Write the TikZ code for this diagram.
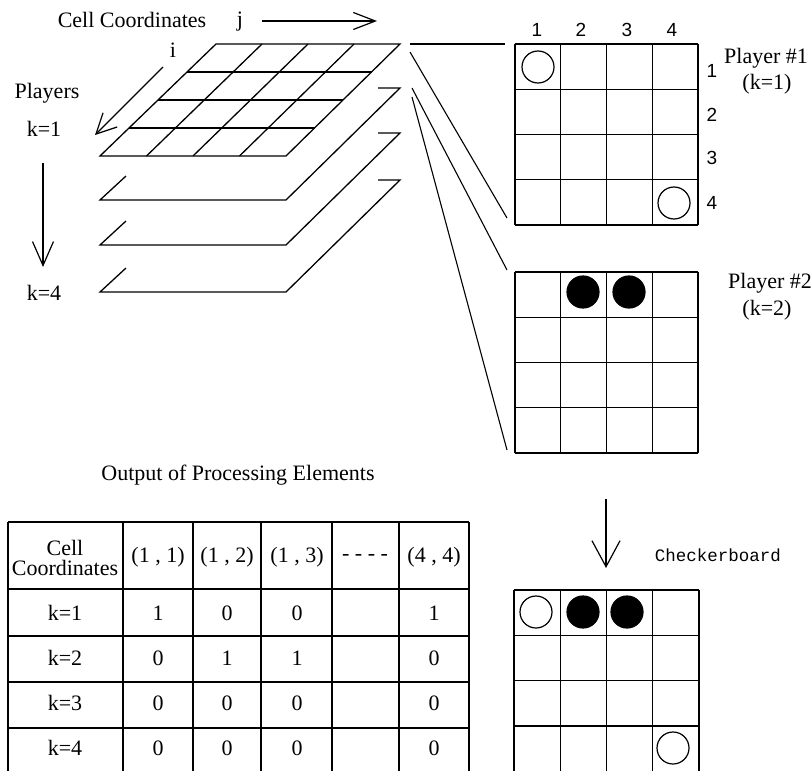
\documentclass[tikz,border=0pt]{standalone}
\usepackage{fontspec}
\setmainfont{Liberation Serif}
\newfontfamily\sansf{Liberation Sans}
\newfontfamily\monof{Liberation Mono}
\usetikzlibrary{arrows.meta}
\begin{document}
\begin{tikzpicture}[x=1pt,y=-1pt,line width=1.3pt,
  lbl/.style={font=\fontsize{22}{20}\selectfont, inner sep=0pt},
  num/.style={font=\sansf\fontsize{19}{20}\selectfont, inner sep=0pt},
  mono/.style={font=\monof\fontsize{17.5}{18}\selectfont, inner sep=0pt},
  piece/.style={circle, draw, line width=1.2pt, minimum size=32pt, inner sep=0pt},
  black piece/.style={piece, fill=black},
  conn/.style={line width=1.1pt},
  vee/.style={-{Straight Barb[length=#1pt,width=#1pt,line width=1.2pt]}}
]
\fill[white] (0,0) rectangle (812,771);
\useasboundingbox (0,0) rectangle (812,771);

% ---------- labels top left ----------
\node[lbl] (cc) at (132,20) {Cell Coordinates};
\node[lbl] (jl) at (240,22) {j};
\coordinate (ja) at (262,21);
\coordinate (jb) at (377,21);
\draw[-{Straight Barb[length=22pt,width=17pt,line width=1.2pt]}] (ja) -- (jb);
\node[lbl] (il) at (173,50) {i};
\coordinate (ia) at (163,67);
\coordinate (ib) at (95,135);
\draw[vee=20] (ia) -- (ib);
\node[lbl] (pl) at (47,93) {Players};
\node[lbl] (k1) at (44,129) {k=1};
\node[lbl] (k4) at (44,293) {k=4};
\coordinate (ka) at (43,163);
\coordinate (kb) at (43,267);
\draw[-{Straight Barb[length=24pt,width=21pt,line width=1.2pt]}] (ka) -- (kb);

% ---------- stacked layers ----------
% layer 1 full grid
\coordinate (L1tl) at (216,44);
\coordinate (L1tr) at (400,44);
\coordinate (L1br) at (286,156);
\coordinate (L1bl) at (100,156);
\draw (L1tl) -- (L1tr) -- (L1br) -- (L1bl) -- cycle;
\foreach \r in {1,2,3} {
  \draw (216-\r*29,44+\r*28) -- (400-\r*28.5,44+\r*28);
  \draw (216+\r*46,44) -- (100+\r*46.5,156);
}
% layers 2-4
\foreach \t/\n in {88/2,133/3,180/4} {
  \coordinate (L\n tr) at (400,\t);
  \coordinate (L\n br) at (286,\t+112);
  \coordinate (L\n bl) at (100,\t+112);
  \draw (378,\t) -- (L\n tr) -- (L\n br) -- (L\n bl) -- (126,\t+88);
}

% ---------- board 1 ----------
\foreach \i in {0,...,4} {
  \draw (515+\i*45.75,44) -- (515+\i*45.75,225);
  \draw (515,44+\i*45.25) -- (698,44+\i*45.25);
}
\coordinate (B1tl) at (505,44);
\coordinate (B1bl) at (507,218);
\node[num] (c1) at (537,30) {1};
\node[num] (c2) at (581,30) {2};
\node[num] (c3) at (627,30) {3};
\node[num] (c4) at (672,30) {4};
\node[num] (r1) at (712,71) {1};
\node[num] (r2) at (712,115) {2};
\node[num] (r3) at (712,158) {3};
\node[num] (r4) at (712,203) {4};
\node[lbl] (p1) at (766,58) {Player \#1};
\node[lbl] (p1k) at (767,84) {(k=1)};
\node[piece] (b1a) at (538,67) {};
\node[piece] (b1b) at (674,203) {};

% ---------- board 2 ----------
\foreach \i in {0,...,4} {
  \draw (515+\i*45.75,272) -- (515+\i*45.75,453);
  \draw (515,272+\i*45.25) -- (698,272+\i*45.25);
}
\coordinate (B2tl) at (507,270);
\coordinate (B2bl) at (507,450);
\node[lbl] (p2) at (770,283) {Player \#2};
\node[lbl] (p2k) at (767,310) {(k=2)};
\node[black piece] (b2a) at (583,292) {};
\node[black piece] (b2b) at (629,292) {};

% ---------- connectors ----------
\coordinate (s1) at (410,44);
\coordinate (s2) at (410,52);
\coordinate (s3) at (412,88);
\coordinate (s4) at (412,97);
\draw[conn] (s1) -- (B1tl);
\draw[conn] (s2) -- (B1bl);
\draw[conn] (s3) -- (B2tl);
\draw[conn] (s4) -- (B2bl);

% ---------- table ----------
\node[lbl] (out) at (238,475) {Output of Processing Elements};
\foreach \x in {8,123,193,261,332,399,469} {
  \draw (\x,522) -- (\x,771);
}
\foreach \y in {522,589,636,682,728} {
  \draw (8,\y) -- (469,\y);
}
\node[lbl, align=center] (hc) at (65,558) {Cell\\Coordinates};
\node[lbl] (h1) at (158,557) {(1 , 1)};
\node[lbl] (h2) at (227,557) {(1 , 2)};
\node[lbl] (h3) at (297,557) {(1 , 3)};
\node[lbl] (hd) at (365,557) {- - - -};
\node[lbl] (h4) at (434,557) {(4 , 4)};
\foreach \y/\k/\a/\b/\c/\d in {613/1/1/0/0/1, 658/2/0/1/1/0, 703/3/0/0/0/0, 748/4/0/0/0/0} {
  \node[lbl] (rk\k) at (65,\y) {k=\k};
  \node[lbl] (ra\k) at (158,\y) {\a};
  \node[lbl] (rb\k) at (227,\y) {\b};
  \node[lbl] (rc\k) at (297,\y) {\c};
  \node[lbl] (rd\k) at (434,\y) {\d};
}

% ---------- checkerboard ----------
\coordinate (ca) at (606,499);
\coordinate (cb) at (606,568);
\draw[-{Straight Barb[length=26pt,width=28pt,line width=1.2pt]}] (ca) -- (cb);
\node[mono] (chk) at (718,555) {Checkerboard};
\foreach \i in {0,...,4} {
  \draw (514+\i*46.25,590) -- (514+\i*46.25,771);
}
\foreach \i in {0,...,3} {
  \draw (514,590+\i*45.3) -- (699,590+\i*45.3);
}
\node[piece] (cp1) at (536,612) {};
\node[black piece] (cp2) at (583,612) {};
\node[black piece] (cp3) at (627,612) {};
\node[piece] (cp4) at (673,748) {};
\end{tikzpicture}
\end{document}
